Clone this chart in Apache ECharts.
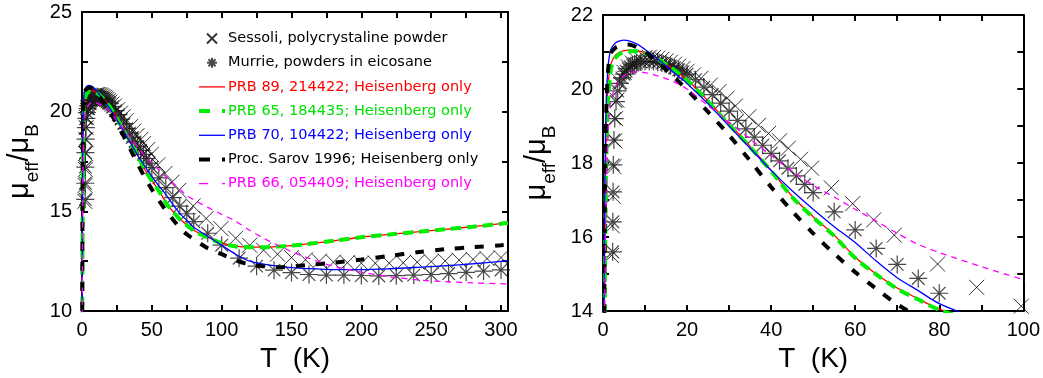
<!DOCTYPE html>
<html><head><meta charset="utf-8">
<script src="https://cdn.jsdelivr.net/npm/echarts@6/dist/echarts.min.js"></script>
<style>html,body{margin:0;padding:0;background:#fff}#c{width:1043px;height:378px}</style>
</head><body><div id="c"></div>
<script>
// ---- data ----
const sessoliT = [2.0,2.2,2.4,2.6,2.8,3.0,3.3,4,5,6,7,8,9,10,11,12,13,14,15,16,17,18,19,20,21.5,23.3,25.5,27.6,29.5,31.5,34.7,37,39.4,42,44.1,47,49.6,54.3,59.4,64.4,69.3,79.6,88.9,99.5,110,120,130,140,150,160,170,180,190,200,210,220,230,240,250,260,270,280,290,300];
const sessoliMu = [15.5,16.3,17.1,17.9,18.6,19.2,19.7,20.2,20.45,20.6,20.7,20.78,20.82,20.85,20.86,20.85,20.83,20.8,20.76,20.72,20.67,20.62,20.55,20.48,20.38,20.29,20.1,19.93,19.75,19.54,19.25,19.02,18.8,18.6,18.4,18.1,17.86,17.33,16.9,16.46,16.05,15.27,14.64,14.13,13.65,13.3,13.05,12.85,12.68,12.57,12.5,12.45,12.42,12.4,12.4,12.4,12.42,12.45,12.48,12.51,12.55,12.59,12.63,12.68];
const murrieT = [2.3,2.35,2.4,2.45,2.6,2.8,3.1,3.5,4,4.5,5,5.5,6,6.5,7,7.5,8,9,10,11,12,13,14,15,16,17,18,19,20,22,24,26,28,30,32,34,36,38,40,42,44,46,48,50,55,60,65,70,75,80,90,100,112.5,125,137.5,150,162.5,175,187.5,200,212.5,225,237.5,250,262.5,275,287.5,300];
const murrieMu = [15.6,16.41,17.22,17.95,18.62,19.2,19.66,19.95,20.15,20.3,20.4,20.48,20.55,20.6,20.65,20.68,20.7,20.73,20.75,20.75,20.74,20.72,20.7,20.67,20.62,20.57,20.52,20.46,20.4,20.25,20.05,19.85,19.62,19.4,19.15,18.92,18.7,18.48,18.26,18.06,17.86,17.65,17.42,17.2,16.68,16.19,15.69,15.26,14.88,14.48,13.9,13.3,12.65,12.25,12.05,11.93,11.83,11.8,11.8,11.78,11.76,11.77,11.8,11.83,11.88,11.94,12.0,12.06];

const modelT = [0.1,0.3,0.5,0.8,1.2,1.6,2,3,4,5,6,8,10,12,14,16,18,20,25,30,35,40,45,50,55,60,65,70,75,80,90,100,110,120,130,140,150,160,180,200,220,240,260,280,300,305];
const prb89Mu = [8,14,17,19,20.1,20.5,20.72,20.92,21.0,21.04,21.05,21.04,20.98,20.88,20.75,20.6,20.43,20.25,19.68,19.06,18.45,17.8,17.1,16.55,16.05,15.45,15.0,14.62,14.33,14.05,13.7,13.42,13.25,13.2,13.2,13.23,13.28,13.35,13.52,13.7,13.84,13.97,14.1,14.23,14.38,14.42];
const prb65Mu = [7,12,15.5,18.2,19.6,20.3,20.6,20.85,20.95,21.0,21.02,21.02,20.97,20.87,20.74,20.59,20.42,20.24,19.66,19.04,18.43,17.78,17.08,16.53,16.03,15.43,14.99,14.6,14.31,14.03,13.68,13.4,13.24,13.2,13.2,13.23,13.28,13.35,13.52,13.7,13.84,13.97,14.1,14.23,14.38,14.42];
const prb70Mu = [8,15,18,19.8,20.6,20.95,21.1,21.25,21.3,21.32,21.31,21.22,21.07,20.9,20.72,20.53,20.34,20.15,19.6,19.0,18.4,17.8,17.25,16.75,16.28,15.85,15.35,14.9,14.55,14.2,13.75,13.3,12.85,12.5,12.35,12.25,12.18,12.13,12.08,12.08,12.12,12.19,12.27,12.37,12.49,12.52];
const sarovMu = [8,14,17.5,19.5,20.5,20.85,21.0,21.12,21.17,21.2,21.2,21.13,21.0,20.82,20.62,20.42,20.2,19.98,19.38,18.75,18.06,17.35,16.7,16.1,15.55,15.05,14.6,14.18,13.85,13.6,13.15,12.85,12.55,12.33,12.24,12.2,12.23,12.3,12.42,12.58,12.76,12.95,13.1,13.2,13.3,13.33];
const prb66Mu = [7,12,15,17.5,18.8,19.5,19.75,20.05,20.24,20.36,20.43,20.47,20.44,20.39,20.32,20.24,20.13,20.0,19.55,19.1,18.65,18.2,17.78,17.4,17.08,16.75,16.43,16.1,15.8,15.58,15.2,14.85,14.5,14.05,13.65,13.3,12.98,12.7,12.25,11.95,11.72,11.56,11.47,11.41,11.37,11.36];

const names = ['Sessoli, polycrystaline powder','Murrie, powders in eicosane','PRB 89, 214422; Heisenberg only','PRB 65, 184435; Heisenberg only','PRB 70, 104422; Heisenberg only','Proc. Sarov 1996; Heisenberg only','PRB 66, 054409; Heisenberg only'];
const textColors = ['#000000','#000000','#ff0000','#00e000','#0000ff','#000000','#ff00ff'];
const leftTicksX = {min:0,max:305,interval:25,lab:50};
const leftTicksY = {min:10,max:25,interval:2.5,lab:5};
const rightTicksX = {min:0,max:100,interval:10,lab:20};
const rightTicksY = {min:14,max:22,interval:1,lab:2};

// ---- build ----
const zip = (a,b)=>a.map((x,i)=>[x,b[i]]);
const crossPath = 'path://M0,0L10,10M10,0L0,10';
const starPath = 'path://M5,0L5,10M0,5L10,5M1.5,1.5L8.5,8.5M8.5,1.5L1.5,8.5';
const lineDefs = [
  {mu:prb89Mu, color:'#ff0000', width:1.3, type:'solid', legendType:'solid'},
  {mu:prb65Mu, color:'#00ee00', width:4, type:[10,6], legendType:[11,12]},
  {mu:prb70Mu, color:'#0000ff', width:1.3, type:'solid', legendType:'solid'},
  {mu:sarovMu, color:'#000000', width:4, type:[9,11], legendType:[11,12]},
  {mu:prb66Mu, color:'#ff00ff', width:1.3, type:[6,5], legendType:[9,14]},
];
const FONT = 'Liberation Sans';
function seriesFor(g){
  const s = [];
  s.push({name:names[0], type:'scatter', xAxisIndex:2*g, yAxisIndex:2*g, symbol:crossPath, symbolSize:15,
    itemStyle:{color:'rgba(0,0,0,0)', borderColor:'#000', borderWidth:1}, data:zip(sessoliT,sessoliMu), silent:true});
  s.push({name:names[1], type:'scatter', xAxisIndex:2*g, yAxisIndex:2*g, symbol:starPath, symbolSize:18,
    itemStyle:{color:'rgba(0,0,0,0)', borderColor:'#1a1a1a', borderWidth:1.2}, data:zip(murrieT,murrieMu), silent:true});
  lineDefs.forEach((d,i)=>{
    s.push({name:names[i+2], type:'line', xAxisIndex:2*g, yAxisIndex:2*g, symbol:'none', showSymbol:false, smooth:0.3,
      color:d.color, lineStyle:{color:d.color, width:d.width, type:d.type}, data:zip(modelT,d.mu), silent:true, clip:true});
  });
  return s;
}
function axisPair(g, t, isX, nameCfg){
  const base = {gridIndex:g, type:'value', min:t.min, max:t.max, interval:t.interval,
    axisLine:{show:true, onZero:false, lineStyle:{color:'#000', width:2}},
    axisTick:{show:true, inside:true, length:6, lineStyle:{color:'#000', width:2}},
    splitLine:{show:false}};
  const main = Object.assign({}, base, {
    position: isX ? 'bottom' : 'left',
    axisLabel:{show:true, color:'#000', fontFamily:FONT, fontSize:20, margin:isX?9:10,
      formatter:v=> (Math.abs(v/t.lab - Math.round(v/t.lab))<1e-6 && v<=t.max) ? String(v) : ''}
  }, nameCfg);
  const mirror = Object.assign({}, base, {position: isX ? 'top' : 'right', axisLabel:{show:false}});
  return [main, mirror];
}
const xName = {name:'T  (K)', nameLocation:'middle', nameGap:31, nameTextStyle:{fontFamily:FONT, fontSize:28, color:'#000'}};
const yRich = {m:{fontFamily:FONT, fontSize:29, color:'#000', lineHeight:44, verticalAlign:'middle'},
               s:{fontFamily:FONT, fontSize:19, color:'#000', lineHeight:19, verticalAlign:'bottom'}};
const yName = gap => ({name:'{m|μ}{s|eff}{m|/μ}{s|B}', nameLocation:'middle', nameGap:gap, nameTextStyle:{rich:yRich}});

const option = {
  animation:false,
  backgroundColor:'#fff',
  grid:[{left:82, top:12, width:426, height:299}, {left:603, top:15, width:424, height:296}],
  xAxis:[...axisPair(0,leftTicksX,true,xName), ...axisPair(1,rightTicksX,true,xName)],
  yAxis:[...axisPair(0,leftTicksY,false,yName(40)), ...axisPair(1,rightTicksY,false,yName(44))],
  legend:{show:true, orient:'vertical', left:197, top:31, padding:0, itemWidth:26, itemHeight:10, itemGap:9.2,
    selectedMode:false,
    textStyle:{fontFamily:'DejaVu Sans', fontSize:14.5, lineHeight:14, padding:[0,0,0,-2]},
    data:names.map((n,i)=>{
      const item = {name:n, textStyle:{color:textColors[i]}};
      if (i >= 2) {
        const d = lineDefs[i-2];
        item.itemStyle = {opacity:0, color:'rgba(0,0,0,0)', borderColor:'rgba(0,0,0,0)', borderWidth:0};
        item.lineStyle = {width:d.width, type:d.legendType, color:d.color};
      }
      return item;
    })},
  series:[...seriesFor(0), ...seriesFor(1)]
};
const chart = echarts.init(document.getElementById('c'), null, {renderer:'canvas'});
chart.setOption(option);
</script></body></html>
